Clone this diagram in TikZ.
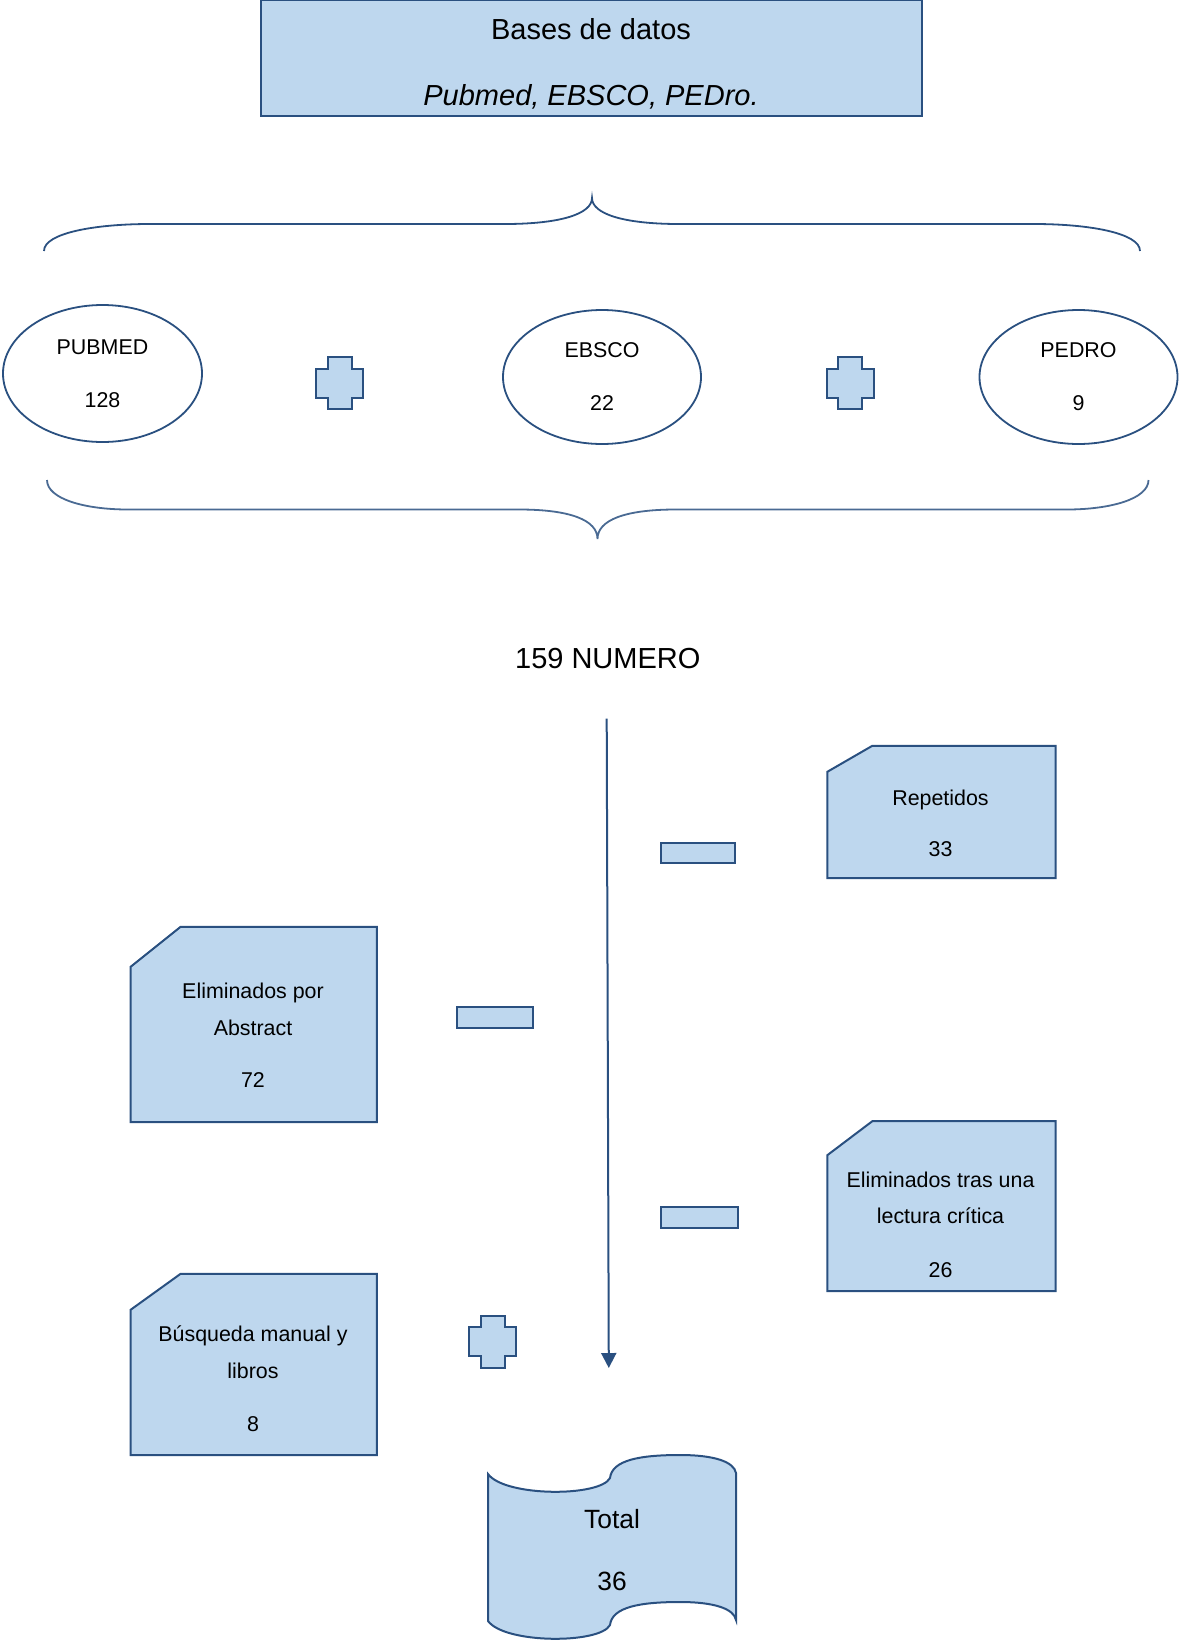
\documentclass[tikz,border=0pt]{standalone}
\usepackage{fontspec}
\setmainfont{Liberation Sans}
\usetikzlibrary{shapes.geometric,arrows.meta}
\definecolor{edge}{RGB}{42,80,128}
\definecolor{boxfill}{RGB}{190,215,238}
\tikzset{
  shapeline/.style={draw=edge, line width=2pt, fill=boxfill, line join=miter},
  bigtxt/.style={font=\fontsize{29}{66}\selectfont, align=center, inner sep=0pt},
  smalltxt/.style={font=\fontsize{21.4}{36.5}\selectfont, align=center, inner sep=0pt},
  oval/.style={ellipse, draw=edge, line width=1.8pt, fill=white, inner sep=0pt,
    font=\fontsize{21.4}{53}\selectfont, align=center},
  minusbox/.style={rectangle, shapeline, inner sep=0pt},
  bracepath/.style={draw=edge, line width=1.8pt},
  frame/.style={rectangle, inner sep=0pt},
  arrowline/.style={draw=edge, line width=2pt, -{Triangle[width=15pt,length=15pt]}},
}
\newcommand\cutcorner[3]{%
  \filldraw[shapeline] ([yshift=-#3pt]#1.north west) -- ([xshift=#2pt]#1.north west)
    -- (#1.north east) -- (#1.south east) -- (#1.south west) -- cycle;}
\newcommand\plusshape[1]{%
  \filldraw[shapeline, shift={(#1)}] (-12,-26) -- (12,-26) -- (12,-14.5) -- (23.5,-14.5)
    -- (23.5,14.5) -- (12,14.5) -- (12,26) -- (-12,26) -- (-12,14.5) -- (-23.5,14.5)
    -- (-23.5,-14.5) -- (-12,-14.5) -- cycle;}
\begin{document}
\begin{tikzpicture}[x=1pt, y=-1pt]
\useasboundingbox (0,0) rectangle (1179,1641);

% top box
\node[rectangle, shapeline, minimum width=661pt, minimum height=116pt, inner sep=0pt] (db) at (591,58) {};
\node[bigtxt] (dbT) at (591,64) {Bases de datos\\\textit{Pubmed, EBSCO, PEDro.}};

% top brace
\draw[bracepath] (44,251) .. controls (44,233) and (95,224) .. (150,224) -- (505,224)
  .. controls (560,224) and (592,214) .. (592,198)
  .. controls (592,214) and (624,224) .. (679,224) -- (1034,224)
  .. controls (1089,224) and (1140,233) .. (1140,251);

% ellipses
\node[oval, minimum width=199pt, minimum height=137pt] (pubmed) at (102.5,373.5) {PUBMED\\128};
\node[oval, minimum width=198pt, minimum height=134pt] (ebsco) at (602,377) {EBSCO\\22};
\node[oval, minimum width=198pt, minimum height=134pt] (pedro) at (1078.5,377) {PEDRO\\9};

% plus signs
\coordinate (p1) at (339.5,383);
\coordinate (p2) at (850,383);
\coordinate (p3) at (492.7,1341.5);
\plusshape{p1}
\plusshape{p2}
\plusshape{p3}

% bottom brace
\draw[bracepath, draw opacity=0.85] (47,480) .. controls (47,499) and (85,509.5) .. (128,509.5) -- (519,509.5)
  .. controls (570,509.5) and (597.5,520) .. (597.5,539)
  .. controls (597.5,520) and (625,509.5) .. (676,509.5) -- (1067,509.5)
  .. controls (1110,509.5) and (1148.5,499) .. (1148.5,480);

% total count
\node[font=\fontsize{29}{35}\selectfont, inner sep=0pt] (num) at (607.8,659) {159 NUMERO};

% arrow
\coordinate (aS) at (606.7,718.7);
\coordinate (aE) at (608.8,1368);
\draw[arrowline] (aS) -- (aE);

% cut-corner boxes
\node[frame, minimum width=228pt, minimum height=132pt] (rep) at (941.5,812) {};
\cutcorner{rep}{45}{26}
\node[smalltxt, font=\fontsize{21.4}{51}\selectfont] (repT) at (940.5,823) {Repetidos\\33};

\node[frame, minimum width=245.8pt, minimum height=195pt] (elim1) at (253.7,1024.5) {};
\cutcorner{elim1}{50}{40}
\node[smalltxt] (elim1T) at (253,1035.5) {Eliminados por\\Abstract\\[16pt]72};

\node[frame, minimum width=228pt, minimum height=169.6pt] (elim2) at (941.5,1206.2) {};
\cutcorner{elim2}{45}{34}
\node[smalltxt] (elim2T) at (940.5,1224.5) {Eliminados tras una\\lectura crítica\\[17pt]26};

\node[frame, minimum width=245.8pt, minimum height=181pt] (busq) at (253.7,1364.5) {};
\cutcorner{busq}{50}{36}
\node[smalltxt] (busqT) at (253,1379.2) {Búsqueda manual y\\libros\\[17pt]8};

% minus boxes
\node[minusbox, minimum width=74.4pt, minimum height=20pt] (m1) at (698.2,853) {};
\node[minusbox, minimum width=76pt, minimum height=21pt] (m2) at (494.5,1017) {};
\node[minusbox, minimum width=76.4pt, minimum height=21pt] (m3) at (699.3,1217.7) {};

% total wave shape
\filldraw[shapeline] (488,1474) .. controls (505,1497) and (600,1497) .. (610,1478)
  .. controls (612,1460) and (640,1455) .. (680,1455)
  .. controls (715,1455) and (734,1462) .. (736,1473) -- (736,1620)
  .. controls (734,1609) and (715,1602) .. (680,1602)
  .. controls (640,1602) and (612,1607) .. (610,1625)
  .. controls (600,1644) and (505,1644) .. (488,1621) -- cycle;
\node[font=\fontsize{26.4}{62}\selectfont, align=center, inner sep=0pt] (total) at (612,1550.5) {Total\\36};
\end{tikzpicture}
\end{document}
